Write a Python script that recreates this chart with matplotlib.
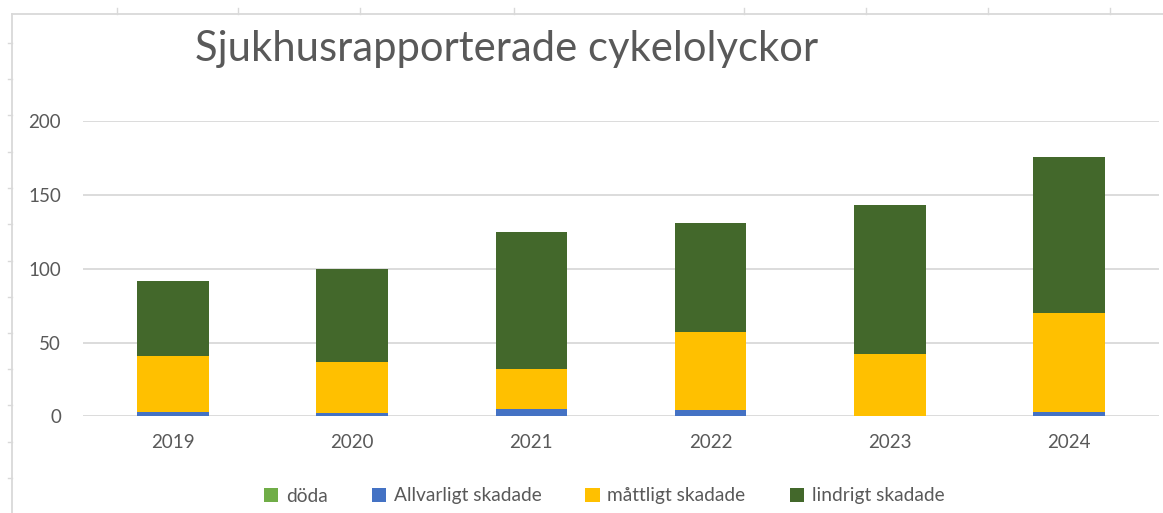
import matplotlib
matplotlib.use("Agg")
import matplotlib.pyplot as plt
from matplotlib.patches import Patch
from matplotlib.lines import Line2D
import numpy as np

# ---- data ----
years = ["2019", "2020", "2021", "2022", "2023", "2024"]
doda = [0, 0, 0, 0, 0, 0]
allvarligt = [3, 2, 5, 4, 0, 3]
mattligt = [38, 35, 27, 53, 42, 67]
lindrigt = [51, 63, 93, 74, 101, 106]
series_names = ["döda", "Allvarligt skadade", "måttligt skadade", "lindrigt skadade"]
series_colors = ["#70AD47", "#4472C4", "#FFC000", "#43682B"]
yticks = [0, 50, 100, 150, 200]
title = "Sjukhusrapporterade cykelolyckor"

# ---- layout ----
W, H = 1163, 513
DPI = 100
txt = "#595959"
grid_c = "#D9D9D9"
font = "Lato"

fig = plt.figure(figsize=(W / DPI, H / DPI), dpi=DPI)
fig.patch.set_facecolor("white")

def fx(px):
    return px / W

def fy(py):
    return 1 - py / H

left, right, top, bottom = 83.3, 1158.7, 121.3, 416.3
ax = fig.add_axes([fx(left), fy(bottom), fx(right) - fx(left), (bottom - top) / H])

x = np.arange(len(years))
width = 0.4
stack = [doda, allvarligt, mattligt, lindrigt]
base = np.zeros(len(years))
for vals, name, col in zip(stack, series_names, series_colors):
    vals = np.array(vals, dtype=float)
    ax.bar(x, vals, width, bottom=base, color=col, label=name, linewidth=0, zorder=3)
    base += vals

ax.set_xlim(-0.5, len(years) - 0.5)
ax.set_ylim(0, 200)
ax.set_yticks(yticks)
ax.set_xticks(x)
ax.set_xticklabels(years)
for s in ax.spines.values():
    s.set_visible(False)
ax.yaxis.grid(True, color=grid_c, linewidth=1.3, zorder=0)
ax.set_axisbelow(True)
ax.tick_params(axis="both", length=0, labelsize=13.5, labelcolor=txt)
ax.tick_params(axis="y", pad=16)
ax.tick_params(axis="x", pad=13)
for lab in ax.get_xticklabels() + ax.get_yticklabels():
    lab.set_fontfamily(font)

# title
t = fig.text(fx(506.5), fy(61.5), title, ha="center", va="baseline",
             color=txt, fontsize=29, fontfamily=font)
fig.canvas.draw()
w = t.get_window_extent().width
t.set_fontsize(29 * 623 / w)

# legend
handles = [Patch(facecolor=c, edgecolor="none") for c in series_colors]
fig.legend(handles, series_names, loc="center", bbox_to_anchor=(fx(604), fy(496)),
           ncol=4, frameon=False, handlelength=0.75, handleheight=0.75,
           handletextpad=0.4, columnspacing=2.3,
           prop={"family": font, "size": 13.8}, labelcolor=txt)

# spreadsheet-like frame around the chart
frame_x, frame_y = 11.7, 14.3
fig.add_artist(Line2D([fx(frame_x), fx(frame_x)], [fy(frame_y), 0], color=grid_c, lw=1.3))
fig.add_artist(Line2D([fx(frame_x), 1], [fy(frame_y), fy(frame_y)], color=grid_c, lw=1.3))
for px in [117, 238, 360, 514, 744, 866, 988, 1110]:
    fig.add_artist(Line2D([fx(px), fx(px)], [fy(8), fy(frame_y)], color=grid_c, lw=1.0))
for py in [42.7, 79, 115.3, 151.7, 188, 224, 260.7, 297, 333, 369, 405, 441.7, 478]:
    fig.add_artist(Line2D([fx(8), fx(frame_x)], [fy(py), fy(py)], color=grid_c, lw=1.0))

fig.savefig("out.png", dpi=DPI)
